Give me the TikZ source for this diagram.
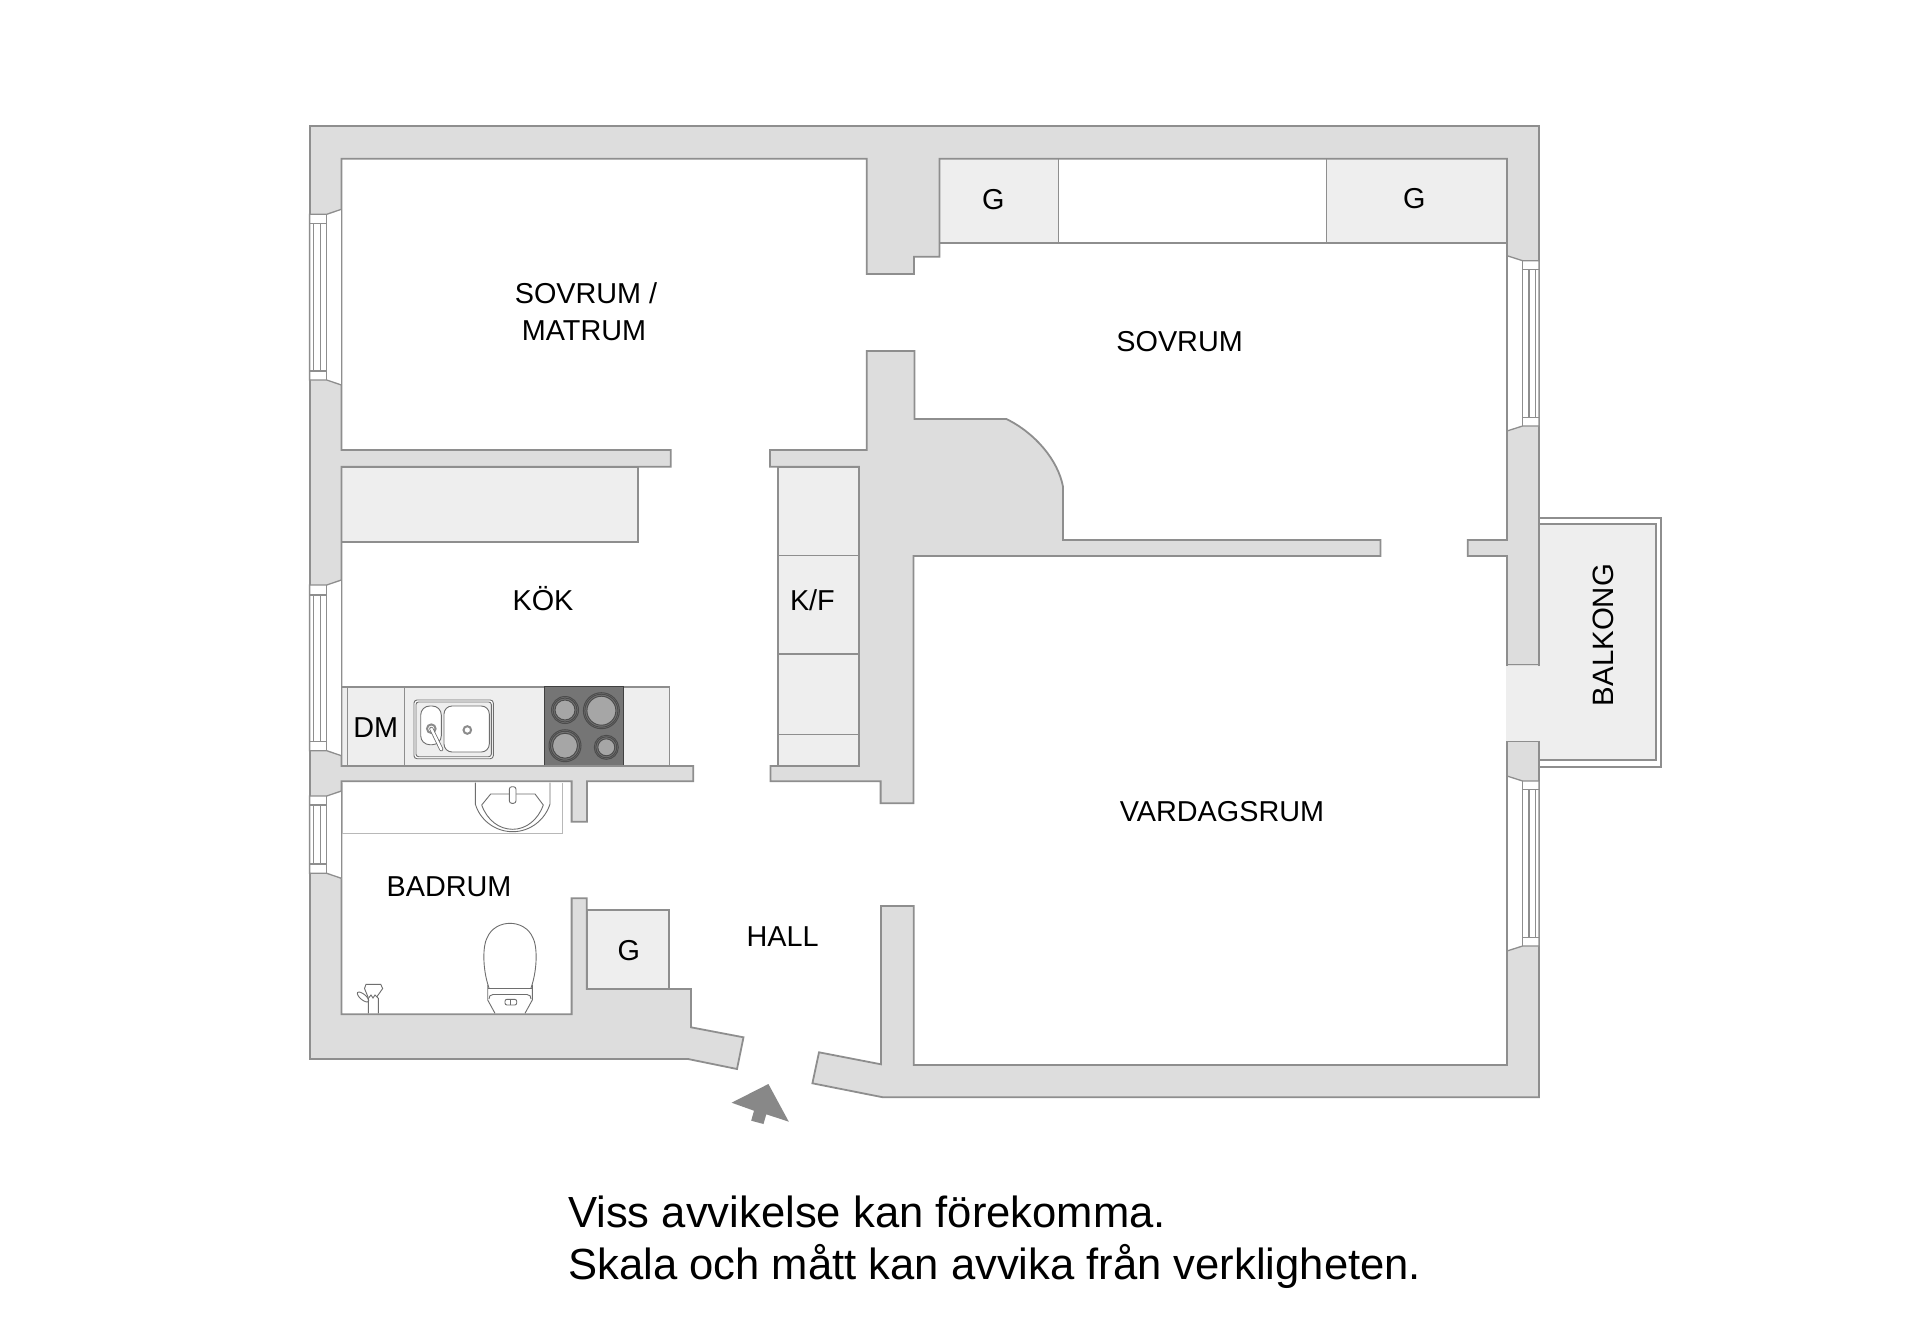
\documentclass[tikz,border=0pt]{standalone}
\usepackage{fontspec}
\setmainfont{Liberation Sans}
\definecolor{wallfill}{HTML}{DDDDDD}
\definecolor{wallline}{HTML}{8E8E8E}
\definecolor{cab}{HTML}{EEEEEE}
\definecolor{hob}{HTML}{757575}
\definecolor{burn}{HTML}{A6A6A6}
\definecolor{fixt}{HTML}{6E6E6E}
\definecolor{arrowgrey}{HTML}{888888}
\tikzset{
  wall/.style={fill=wallfill,draw=wallline,line width=1.8pt,line join=miter},
  cabinet/.style={fill=cab,draw=wallline,line width=1.6pt},
  thin line/.style={draw=wallline,line width=1.3pt},
  fixture/.style={draw=fixt,line width=0.9pt},
  room/.style={font=\fontsize{28.8}{32}\selectfont,text=black,inner sep=0pt,align=center},
  note/.style={font=\fontsize{43.6}{52}\selectfont,text=black,inner sep=0pt,anchor=base west},
}
% xi = wall inner face, xm = pane inner, xo = wall outer, xa,xb = glazing lines
\newcommand{\winV}[9]{%
  \fill[white] (#1,#6-5) -- (#2,#6) -- (#3,#6) -- (#3,#7) -- (#2,#7) -- (#1,#7+5) -- cycle;
  \draw[thin line] (#1,#6-5) -- (#2,#6) -- (#3,#6) -- (#3,#7) -- (#2,#7) -- (#1,#7+5);
  \draw[thin line] (#1,#6-5) -- (#1,#7+5);
  \draw[thin line] (#2,#6) -- (#2,#7);
  \draw[thin line] (#2,#8) -- (#3,#8) (#2,#9) -- (#3,#9);
  \draw[thin line] (#4,#8) -- (#4,#9) (#5,#8) -- (#5,#9);
}
\newcommand{\burner}[3]{%
  \fill[burn] (#1,#2) circle (#3-3.5);
  \draw[draw=black!70,line width=1pt] (#1,#2) circle (#3-3.5);
  \draw[draw=black!70,line width=1pt] (#1,#2) circle (#3-1.5);
  \draw[draw=black!70,line width=1pt] (#1,#2) circle (#3);
}
\begin{document}
\begin{tikzpicture}[x=1pt,y=-1pt]
\useasboundingbox (0,0) rectangle (1920,1322);
\fill[white] (0,0) rectangle (1920,1322);

% balcony
\draw[fill=white,draw=wallline,line width=1.8pt] (1539,518.3) rectangle (1661,766.7);
\draw[fill=cab,draw=wallline,line width=1.8pt] (1539,524.3) rectangle (1655.7,760.3);

% cabinets
\fill[cab] (939.5,158.7) rectangle (1058.7,243.3);
\fill[cab] (1326.5,158.7) rectangle (1507,243.3);
\draw[wallline,line width=1.9pt] (939.5,243.3) -- (1507,243.3);
\draw[thin line] (1058.7,158.7) -- (1058.7,243.3);
\draw[thin line] (1326.5,158.7) -- (1326.5,243.3);
\draw[cabinet] (341.4,466.7) rectangle (637.8,541.7);
\draw[cabinet] (777.8,466.7) rectangle (859,766);
\draw[thin line] (777.8,555.3) -- (859,555.3);
\draw[thin line] (777.8,654) -- (859,654);
\draw[thin line] (777.8,734.7) -- (859,734.7);
\draw[cabinet] (341.4,686.7) rectangle (669.6,766);
\draw[thin line] (347.6,686.7) -- (347.6,766);
\draw[thin line] (404.3,686.7) -- (404.3,766);
\draw[cabinet] (586.7,910) rectangle (668.8,989);

% hob
\fill[hob] (544.3,686.7) rectangle (623.5,766);
\draw[draw=black!75,line width=1.4pt] (544.3,766) -- (544.3,686.7) -- (623.5,686.7) -- (623.5,766);
\burner{565}{710}{13.5}
\burner{601.4}{710.7}{18}
\burner{565}{745.7}{16}
\burner{606.3}{747.3}{12}

% sink
\draw[fixture,fill=white,rounded corners=3pt] (414,700) rectangle (493.3,758.7);
\draw[fixture,fill=cab,rounded corners=2.5pt] (416,702) rectangle (491.3,756.7);
\draw[fixture,fill=white,rounded corners=9pt] (420.7,706) rectangle (441.3,744.7);
\draw[fixture,fill=white,rounded corners=8pt] (444,706) rectangle (489.3,752);
\draw[draw=black!45,fill=white,line width=2pt] (431.3,728.7) circle (4.3);
\draw[draw=black!45,fill=white,line width=2pt] (467.3,730) circle (3.8);
\draw[fixt,line width=4pt,line cap=round] (431.3,728.7) -- (441.3,749.3);
\draw[white,line width=2.4pt,line cap=round] (431.3,728.7) -- (441.3,749.3);

% walls
\draw[wall] (812.4,1083.3) -- (883,1097.3) -- (1539,1097.3) -- (1539,126) -- (310,126) -- (310,1059)
 -- (688,1059) -- (737,1069) -- (743.5,1037.3) -- (691,1027.3) -- (691,989) -- (586.7,989)
 -- (586.7,898.3) -- (571.6,898.3) -- (571.6,1014.3) -- (341.4,1014.3) -- (341.4,781.3)
 -- (571.6,781.3) -- (571.6,821.7) -- (587,821.7) -- (587,781.3) -- (693.3,781.3) -- (693.3,766)
 -- (341.4,766) -- (341.4,466.7) -- (670.8,466.7) -- (670.8,450) -- (341.4,450) -- (341.4,158.7)
 -- (866.7,158.7) -- (866.7,274) -- (914,274) -- (914,256.7) -- (939.5,256.7) -- (939.5,158.7)
 -- (1507,158.7) -- (1507,540) -- (1467.7,540) -- (1467.7,556) -- (1507,556) -- (1507,1065)
 -- (913.7,1065) -- (913.7,906) -- (881,906) -- (881,1064.3) -- (819,1052.3) -- cycle;
\draw[wall] (866.7,351) -- (914.5,351) -- (914.5,419) -- (1006.4,419)
 .. controls (1035,433) and (1058,460) .. (1063,486.7) -- (1063,540) -- (1380.4,540) -- (1380.4,556)
 -- (913.5,556) -- (913.5,803.3) -- (880.6,803.3) -- (880.6,781.3) -- (770.4,781.3) -- (770.4,766)
 -- (859,766) -- (859,466.7) -- (770,466.7) -- (770,450) -- (866.7,450) -- cycle;

% balcony door opening
\fill[cab] (1506,665.6) rectangle (1540.2,740.8);
\draw[thin line] (1506,664.7) -- (1539,664.7);
\draw[thin line] (1506,741.7) -- (1539,741.7);
\draw[wallline,line width=1.8pt] (1539,741.7) -- (1539,781);

% windows
\winV{341.4}{326.7}{309.6}{313.3}{320.6}{214.3}{380}{223.3}{371}
\winV{341.4}{326.7}{309.6}{313.3}{320.6}{585}{750.7}{595}{741.7}
\winV{341.4}{326.7}{309.6}{313.3}{320.6}{796}{873.3}{805}{864}
\winV{1507}{1522.6}{1539}{1535.5}{1529}{260.7}{426}{269.3}{417.3}
\winV{1507}{1522.6}{1539}{1535.5}{1529}{781}{946}{789.3}{937.3}

% bathroom counter and basin
\draw[draw=black!28,line width=1.2pt] (342.5,782.5) -- (342.5,833.3) -- (562.7,833.3) -- (562.7,782.5);
\draw[fixture] (475.3,782.5) -- (475.3,804) .. controls (480,820) and (495,831.7) .. (512.7,831.7)
 .. controls (530,831.7) and (545,820) .. (550,804) -- (550,782.5);
\draw[fixture] (481.7,805) -- (490.7,794) -- (535,794) -- (543.3,805)
 .. controls (538,820) and (526,829.3) .. (512.7,829.3)
 .. controls (499,829.3) and (487,820) .. (481.7,805);
\draw[fixture,fill=white,rounded corners=2.5pt] (509.3,786.7) rectangle (516,803.3);

% toilet
\draw[fixture] (489,988) .. controls (482,968) and (483,945) .. (487,938)
 .. controls (491,928) and (501,923.3) .. (510,923.3)
 .. controls (519,923.3) and (529,928) .. (533,938)
 .. controls (537,945) and (538,968) .. (531,988);
\draw[fixture] (487.7,988.3) -- (532.3,988.3);
\draw[fixture] (487.7,985) -- (487.7,1000) -- (495,1013.3);
\draw[fixture] (532.3,985) -- (532.3,1000) -- (525,1013.3);
\draw[fixture] (489,999) .. controls (489,996) and (490,995) .. (493,994.5) -- (527,994.5)
 .. controls (530,995) and (531,996) .. (531,999);
\draw[fixture,rounded corners=2pt] (505,999.3) rectangle (516.7,1005);
\draw[fixture] (510.8,999.3) -- (510.8,1005);

% bidet shower
\draw[fixture] (368.3,1013.3) -- (368.3,998.3) -- (371,995) -- (373,998) -- (375,995) -- (378.3,998.3) -- (378.3,1013.3);
\draw[fixture] (368,997) -- (364.5,988.5) -- (366,984.3) -- (380.7,984.3) -- (382.7,988.5) -- (376.7,997);
\draw[fixture,rotate around={-40:(363,997)}] (363,997) ellipse (7 and 2.8);

% entrance arrow
\fill[arrowgrey] (768.4,1084) -- (788.8,1121.7) -- (766.3,1114.3) -- (763.5,1124) -- (751.2,1120.7)
 -- (754,1110.7) -- (731.6,1102.7) -- cycle;

% labels
\node[room] (sovmat) at (586,293.5) {SOVRUM /};
\node[room] (matrum) at (584,331) {MATRUM};
\node[room] (sovrum) at (1179.6,341.5) {SOVRUM};
\node[room] (g1) at (993.4,200) {G};
\node[room] (g2) at (1414.4,198.7) {G};
\node[room,anchor=base] (kok) at (543,610) {KÖK};
\node[room] (kf) at (812.4,600.7) {K/F};
\node[room] (dm) at (375.7,728) {DM};
\node[room] (badrum) at (449,886.5) {BADRUM};
\node[room] (hall) at (782.7,936.2) {HALL};
\node[room] (g3) at (628.8,951) {G};
\node[room] (vard) at (1222,811.5) {VARDAGSRUM};
\node[room,rotate=90,font=\fontsize{29.4}{32}\selectfont] (balkong) at (1603.3,635) {BALKONG};
\node[note] (n1) at (568,1227) {Viss avvikelse kan förekomma.};
\node[note] (n2) at (568,1279) {Skala och mått kan avvika från verkligheten.};
\end{tikzpicture}
\end{document}
